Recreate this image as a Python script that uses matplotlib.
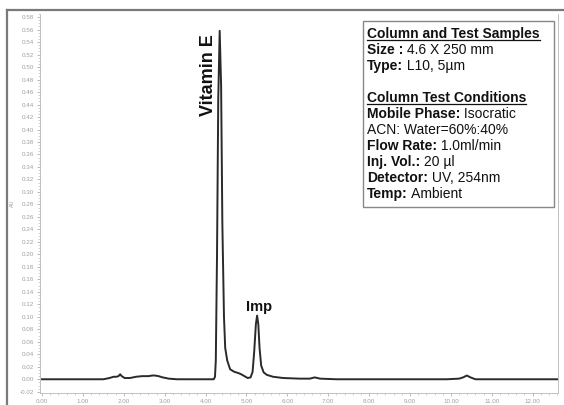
import numpy as np
import matplotlib
matplotlib.use("Agg")
import matplotlib.pyplot as plt
from matplotlib.ticker import MultipleLocator, FormatStrFormatter
from matplotlib.lines import Line2D

# chromatogram trace (time in min, absorbance in AU)
time = [0.0, 1.5, 1.65, 1.75, 1.82, 1.87, 1.91, 1.95, 2.02, 2.15, 2.3, 2.45,
        2.6, 2.7, 2.76, 2.85, 2.95, 3.1, 3.3, 4.0, 4.2, 4.23, 4.25, 4.28, 4.31,
        4.345, 4.38, 4.41, 4.45, 4.48, 4.53, 4.6, 4.7, 4.8, 4.87, 4.95, 5.03,
        5.1, 5.15, 5.19, 5.23, 5.26, 5.29, 5.32, 5.36, 5.42, 5.5, 5.65, 5.9,
        6.3, 6.55, 6.67, 6.8, 7.2, 9.9, 10.2, 10.3, 10.39, 10.48, 10.6,
        10.9, 12.6]
absorb = [0.0, 0.0, 0.002, 0.004, 0.004, 0.005, 0.008, 0.005, 0.002, 0.002,
          0.004, 0.005, 0.005, 0.006, 0.006, 0.005, 0.003, 0.001, 0.0, 0.0,
          0.0, 0.004, 0.03, 0.2, 0.45, 0.558, 0.47, 0.25, 0.1, 0.05, 0.03,
          0.016, 0.012, 0.01, 0.008, 0.005, 0.002, 0.003, 0.012, 0.045,
          0.088, 0.102, 0.088, 0.05, 0.022, 0.011, 0.007, 0.004, 0.002,
          0.001, 0.001, 0.003, 0.001, 0.0, 0.0, 0.001, 0.003, 0.006, 0.003,
          0.0, 0.0, 0.0]

peak_names = ["Vitamin E", "Imp"]
peak_times = [4.275, 5.31]
peak_heights = [0.488, 0.11]

xticks = np.arange(0, 13, 1)
yticks = np.arange(-0.02, 0.59, 0.02)

info_lines = [
    ("Column and Test Samples", "", "head"),
    ("Size :", " 4.6 X 250 mm", "body"),
    ("Type:", " L10, 5\u00b5m", "body"),
    ("", "", "blank"),
    ("Column Test Conditions", "", "head"),
    ("Mobile Phase:", " Isocratic", "body"),
    ("", "ACN: Water=60%:40%", "body"),
    ("Flow Rate:", " 1.0ml/min", "body"),
    ("Inj. Vol.:", " 20 \u00b5l", "body"),
    ("Detector:", " UV, 254nm", "body"),
    ("Temp:", " Ambient", "body"),
]

plt.rcParams['font.family'] = ['Liberation Sans', 'DejaVu Sans']

fig = plt.figure(figsize=(5.64, 4.05), dpi=100)
ax = fig.add_axes([40 / 564, 12 / 405, 518 / 564, 379 / 405])

ax.plot(time, absorb, color="#2a2a2a", lw=1.4)

ax.set_xlim(-0.05, 12.62)
ax.set_ylim(-0.022, 0.585)
ax.set_xticks(xticks)
ax.set_yticks(yticks)
ax.xaxis.set_minor_locator(MultipleLocator(0.2))
ax.yaxis.set_minor_locator(MultipleLocator(0.005))
ax.xaxis.set_major_formatter(FormatStrFormatter("%.2f"))
ax.yaxis.set_major_formatter(FormatStrFormatter("%.2f"))
ax.tick_params(axis="both", which="major", labelsize=4.5, colors="#a0a0a0",
               length=2.5, width=0.5, pad=1.5)
ax.tick_params(axis="both", which="minor", colors="#b0b0b0", length=1.5,
               width=0.4)
ax.set_ylabel("AU", fontsize=4.0, color="#9a9a9a", labelpad=4)
ax.spines["top"].set_visible(False)
for side in ["left", "bottom", "right"]:
    ax.spines[side].set_color("#b8b8b8")
    ax.spines[side].set_linewidth(0.6)

ax.text(peak_times[0], peak_heights[0], peak_names[0], rotation=90,
        ha="right", va="center", fontsize=13, fontweight="bold", color="#111")
ax.text(peak_times[1], peak_heights[1], peak_names[1], ha="center",
        va="baseline", fontsize=10.5, fontweight="bold", color="#111")

# info box
box_left, box_top, box_right, box_bottom = 363, 21, 554, 207
fig.patches.append(plt.Rectangle(
    (box_left / 564, 1 - box_bottom / 405),
    (box_right - box_left) / 564, (box_bottom - box_top) / 405,
    transform=fig.transFigure, facecolor="white", edgecolor="#888888",
    lw=1.0, zorder=3))

fs = 10
fig.canvas.draw()
renderer = fig.canvas.get_renderer()
line_y = 38
x0 = 367 / 564
for bold, rest, kind in info_lines:
    y = 1 - line_y / 405
    if kind == "head":
        t = fig.text(x0, y, bold, fontsize=fs, fontweight="bold",
                     color="#111", va="baseline", zorder=4)
        bb = t.get_window_extent(renderer)
        fig.add_artist(Line2D([bb.x0 / 564, bb.x1 / 564],
                              [y - 2.0 / 405, y - 2.0 / 405],
                              color="#111", lw=0.9, zorder=4))
    elif kind == "body":
        if bold:
            t = fig.text(x0, y, bold, fontsize=fs, fontweight="bold",
                         color="#111", va="baseline", zorder=4)
            bb = t.get_window_extent(renderer)
            fig.text(bb.x1 / 564, y, rest, fontsize=fs, color="#111",
                     va="baseline", zorder=4)
        else:
            fig.text(x0, y, rest, fontsize=fs, color="#111",
                     va="baseline", zorder=4)
    line_y += 16

# outer frame of the image
fig.add_artist(Line2D([7 / 564, 7 / 564], [0, 1 - 10 / 405],
                      color="#7a7a7a", lw=1.6))
fig.add_artist(Line2D([7 / 564, 1], [1 - 10 / 405, 1 - 10 / 405],
                      color="#7a7a7a", lw=1.6))

fig.savefig("out.png", dpi=100)
